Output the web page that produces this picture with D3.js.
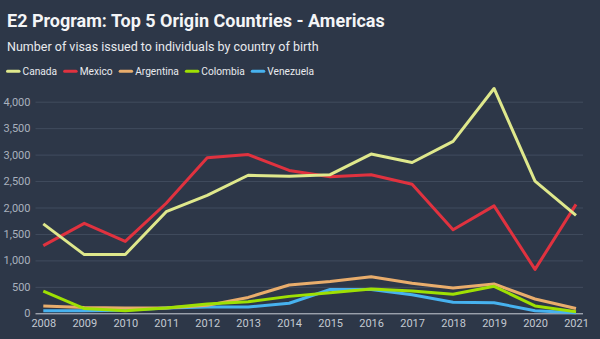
<!DOCTYPE html>
<html>
<head>
<meta charset="utf-8">
<script src="https://cdn.jsdelivr.net/npm/d3@7"></script>
<style>
  html, body { margin: 0; padding: 0; background: #2d3748; }
  svg { display: block; font-family: Roboto, "Noto Sans", sans-serif; }
</style>
</head>
<body>
<svg id="chart"></svg>
<script>
const years = [2008, 2009, 2010, 2011, 2012, 2013, 2014, 2015, 2016, 2017, 2018, 2019, 2020, 2021];

const canada    = [1690, 1110, 1110, 1920, 2230, 2610, 2590, 2620, 3010, 2850, 3250, 4250, 2500, 1850];
const mexico    = [1280, 1700, 1360, 2080, 2940, 3000, 2700, 2580, 2620, 2440, 1580, 2030, 830, 2060];
const argentina = [140, 110, 100, 100, 150, 300, 535, 600, 690, 570, 480, 555, 270, 90];
const colombia  = [420, 90, 50, 100, 175, 220, 320, 390, 460, 420, 360, 510, 140, 30];
const venezuela = [50, 50, 60, 100, 120, 120, 190, 450, 450, 350, 210, 200, 50, 10];

const yTicks = [0, 500, 1000, 1500, 2000, 2500, 3000, 3500, 4000];

const series = [
  { name: "Canada", values: canada, color: "#dfe88c" },
  { name: "Mexico", values: mexico, color: "#e0323f" },
  { name: "Argentina", values: argentina, color: "#e9ad6c" },
  { name: "Colombia", values: colombia, color: "#9ee003" },
  { name: "Venezuela", values: venezuela, color: "#47b2ef" }
];

const width = 600;
const height = 339;

const svg = d3.select("#chart")
  .attr("width", width)
  .attr("height", height);

svg.append("rect")
  .attr("width", width)
  .attr("height", height)
  .attr("fill", "#2d3748");

svg.append("text")
  .attr("x", 7)
  .attr("y", 26.5)
  .attr("fill", "#f4f5f7")
  .attr("font-size", 18)
  .attr("font-weight", "bold")
  .text("E2 Program: Top 5 Origin Countries - Americas");

svg.append("text")
  .attr("x", 7)
  .attr("y", 50.5)
  .attr("fill", "#e8eaee")
  .attr("font-size", 12.5)
  .text("Number of visas issued to individuals by country of birth");

// legend
const legend = svg.append("g").attr("transform", "translate(7, 71.3)");
let lx = 0;
series.forEach(s => {
  const item = legend.append("g").attr("transform", `translate(${lx}, 0)`);
  item.append("line")
    .attr("x1", 0.5).attr("x2", 12)
    .attr("stroke", s.color)
    .attr("stroke-width", 3)
    .attr("stroke-linecap", "round");
  const t = item.append("text")
    .attr("x", 15.5)
    .attr("dy", "0.35em")
    .attr("fill", "#e8eaee")
    .attr("font-size", 10.2)
    .text(s.name);
  lx += 15.5 + t.node().getComputedTextLength() + 7;
});

const x = d3.scaleLinear()
  .domain([2008, 2021])
  .range([43.3, 576]);

const y = d3.scaleLinear()
  .domain([0, 4000])
  .range([313.3, 101.7]);

// gridlines and y labels
const yAxis = d3.axisLeft(y)
  .tickValues(yTicks)
  .tickSize(-(583 - 35.5))
  .tickPadding(5)
  .tickFormat(d3.format(","));

svg.append("g")
  .attr("transform", "translate(35.5, 0)")
  .call(yAxis)
  .call(g => g.select(".domain").remove())
  .call(g => g.selectAll(".tick line")
    .attr("stroke", d => d === 0 ? "#c9ced6" : "#414c5e")
    .attr("stroke-width", 1))
  .call(g => g.selectAll(".tick text")
    .attr("x", -5)
    .attr("fill", "#a9b1bd")
    .attr("font-size", 11)
    .attr("font-family", "Roboto, sans-serif"));

const xAxis = d3.axisBottom(x)
  .tickValues(years)
  .tickSize(0)
  .tickPadding(6)
  .tickFormat(d3.format("d"));

svg.append("g")
  .attr("transform", "translate(0, 313.3)")
  .call(xAxis)
  .call(g => g.select(".domain").remove())
  .call(g => g.selectAll(".tick text")
    .attr("fill", "#c3c9d2")
    .attr("font-size", 11)
    .attr("font-family", "Roboto, sans-serif"));

const line = d3.line()
  .x((d, i) => x(years[i]))
  .y(d => y(d));

const drawOrder = ["Venezuela", "Argentina", "Colombia", "Mexico", "Canada"];
drawOrder.forEach(name => {
  const s = series.find(d => d.name === name);
  svg.append("path")
    .datum(s.values)
    .attr("fill", "none")
    .attr("stroke", s.color)
    .attr("stroke-width", 3)
    .attr("stroke-linejoin", "round")
    .attr("d", line);
});
</script>
</body>
</html>
